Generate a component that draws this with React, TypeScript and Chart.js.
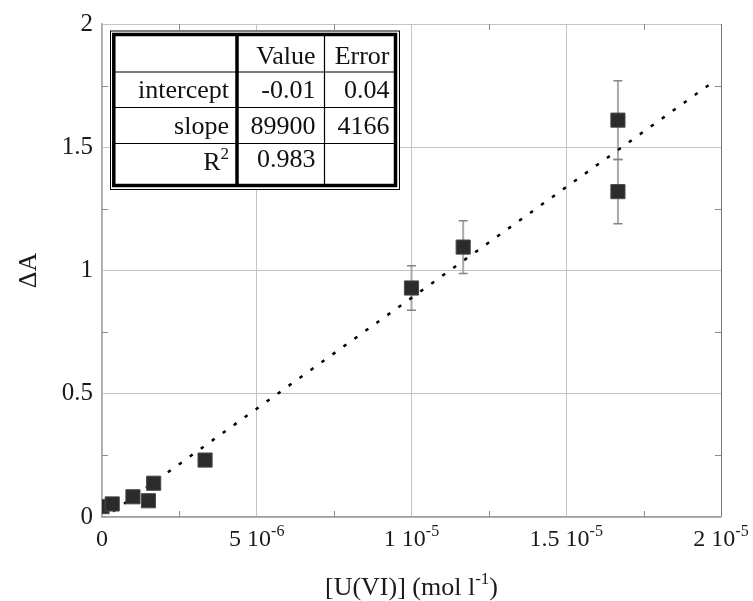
import React, { useEffect, useRef } from "react";
import { Chart, registerables } from "chart.js";

Chart.register(...registerables);

// ---- data ----
const uConc = [0, 0.33e-6, 1.0e-6, 1.5e-6, 1.67e-6, 3.33e-6, 10.0e-6, 11.67e-6, 16.67e-6, 16.67e-6];
const deltaA = [0.042, 0.053, 0.082, 0.066, 0.137, 0.231, 0.929, 1.095, 1.61, 1.32];
const deltaAErr = [0, 0, 0, 0, 0, 0, 0.09, 0.107, 0.16, 0.13];
const fitX = [0, 1.97e-5];
const fitY = [-0.01, 1.761];

const xTickValues = [0, 5e-6, 1e-5, 1.5e-5, 2e-5];
const xTickMantissa = ["0", "5 10", "1 10", "1.5 10", "2 10"];
const xTickExponent = ["", "-6", "-5", "-5", "-5"];
const yTickValues = [0, 0.5, 1, 1.5, 2];
const yTickLabels = ["0", "0.5", "1", "1.5", "2"];
const xMinorTicks = [2.5e-6, 7.5e-6, 12.5e-6, 17.5e-6];
const yMinorTicks = [0.25, 0.75, 1.25, 1.75];

const tableHeader = ["", "Value", "Error"];
const tableRowNames = ["intercept", "slope", "R"];
const tableRowSup = ["", "", "2"];
const tableValues = ["-0.01", "89900", "0.983"];
const tableErrors = ["0.04", "4166", ""];

const xTitleParts = ["[U(VI)] (mol l", "-1", ")"];
const yTitle = "ΔA";

const SERIF = '"Liberation Serif", "Times New Roman", serif';

const decorPlugin = {
  id: "decor",
  beforeDatasetsDraw(chart: any) {
    const { ctx, scales, chartArea: ca } = chart;
    const x = scales.x;
    const y = scales.y;
    ctx.save();
    // minor ticks on all four sides
    ctx.strokeStyle = "#8c8c8c";
    ctx.lineWidth = 1;
    const tl = 6;
    xMinorTicks.forEach((v) => {
      const px = Math.round(x.getPixelForValue(v)) + 0.5;
      ctx.beginPath();
      ctx.moveTo(px, ca.bottom);
      ctx.lineTo(px, ca.bottom - tl);
      ctx.moveTo(px, ca.top);
      ctx.lineTo(px, ca.top + tl);
      ctx.stroke();
    });
    yMinorTicks.forEach((v) => {
      const py = Math.round(y.getPixelForValue(v)) + 0.5;
      ctx.beginPath();
      ctx.moveTo(ca.left, py);
      ctx.lineTo(ca.left + tl, py);
      ctx.moveTo(ca.right, py);
      ctx.lineTo(ca.right - tl, py);
      ctx.stroke();
    });
    // error bars
    uConc.forEach((xv, i) => {
      const e = deltaAErr[i];
      if (!e) return;
      const px = x.getPixelForValue(xv);
      const top = y.getPixelForValue(deltaA[i] + e);
      const bot = y.getPixelForValue(deltaA[i] - e);
      ctx.strokeStyle = "#a9a9a9";
      ctx.lineWidth = 2;
      ctx.beginPath();
      ctx.moveTo(px, top);
      ctx.lineTo(px, bot);
      ctx.stroke();
      ctx.strokeStyle = "#858585";
      ctx.lineWidth = 1.5;
      ctx.beginPath();
      ctx.moveTo(px - 4.5, top);
      ctx.lineTo(px + 4.5, top);
      ctx.moveTo(px - 4.5, bot);
      ctx.lineTo(px + 4.5, bot);
      ctx.stroke();
    });
    ctx.restore();
  },
  afterDraw(chart: any) {
    const { ctx, scales, chartArea: ca } = chart;
    const x = scales.x;
    const y = scales.y;
    ctx.save();
    ctx.fillStyle = "#1a1a1a";

    // y tick labels
    ctx.font = `25px ${SERIF}`;
    ctx.textAlign = "right";
    ctx.textBaseline = "middle";
    yTickValues.forEach((v, i) => {
      ctx.fillText(yTickLabels[i], ca.left - 9, y.getPixelForValue(v));
    });

    // x tick labels with superscript exponent
    ctx.textBaseline = "alphabetic";
    ctx.textAlign = "left";
    const baseX = ca.bottom + 29;
    xTickValues.forEach((v, i) => {
      ctx.font = `24px ${SERIF}`;
      const m = xTickMantissa[i];
      const mw = ctx.measureText(m).width;
      ctx.font = `16px ${SERIF}`;
      const ex = xTickExponent[i];
      const ew = ex ? ctx.measureText(ex).width : 0;
      const total = mw + ew;
      const px = x.getPixelForValue(v);
      const start = px - total / 2;
      ctx.font = `24px ${SERIF}`;
      ctx.fillText(m, start, baseX);
      if (ex) {
        ctx.font = `16px ${SERIF}`;
        ctx.fillText(ex, start + mw, baseX - 10);
      }
    });

    // x title
    {
      ctx.font = `26px ${SERIF}`;
      const w1 = ctx.measureText(xTitleParts[0]).width;
      const w3 = ctx.measureText(xTitleParts[2]).width;
      ctx.font = `17px ${SERIF}`;
      const w2 = ctx.measureText(xTitleParts[1]).width;
      const total = w1 + w2 + w3;
      const cx = (ca.left + ca.right) / 2;
      const start = cx - total / 2;
      const base = ca.bottom + 78;
      ctx.font = `26px ${SERIF}`;
      ctx.fillText(xTitleParts[0], start, base);
      ctx.font = `17px ${SERIF}`;
      ctx.fillText(xTitleParts[1], start + w1, base - 11);
      ctx.font = `26px ${SERIF}`;
      ctx.fillText(xTitleParts[2], start + w1 + w2, base);
    }

    // y title
    ctx.save();
    ctx.translate(29, (ca.top + ca.bottom) / 2);
    ctx.rotate(-Math.PI / 2);
    ctx.font = `26px ${SERIF}`;
    ctx.textAlign = "center";
    ctx.textBaseline = "middle";
    ctx.fillText(yTitle, 0, 0);
    ctx.restore();

    // fit table
    const L = ca.left + 8;
    const T = ca.top + 6.5;
    const outer = { l: L, t: T, r: L + 290, b: T + 159.5 };
    const th = { l: outer.l + 3.8, t: outer.t + 4, r: outer.r - 4.5, b: outer.b - 4.5 };
    const colX = [th.l, L + 127, L + 214.5, th.r];
    const rowY = [th.t, T + 41.5, T + 77, T + 113, th.b];

    ctx.fillStyle = "#ffffff";
    ctx.fillRect(outer.l, outer.t, outer.r - outer.l, outer.b - outer.t);
    ctx.strokeStyle = "#000";
    ctx.lineWidth = 1;
    ctx.strokeRect(outer.l + 0.5, outer.t + 0.5, outer.r - outer.l - 1, outer.b - outer.t - 1);
    ctx.lineWidth = 3.5;
    ctx.strokeRect(th.l, th.t, th.r - th.l, th.b - th.t);
    // inner lines
    ctx.lineWidth = 1.2;
    ctx.beginPath();
    for (let r = 1; r < 4; r++) {
      ctx.moveTo(th.l, rowY[r]);
      ctx.lineTo(th.r, rowY[r]);
    }
    ctx.moveTo(colX[2], th.t);
    ctx.lineTo(colX[2], th.b);
    ctx.stroke();
    ctx.lineWidth = 3.5;
    ctx.beginPath();
    ctx.moveTo(colX[1], th.t);
    ctx.lineTo(colX[1], th.b);
    ctx.stroke();

    ctx.fillStyle = "#111";
    ctx.textAlign = "right";
    ctx.textBaseline = "alphabetic";
    ctx.font = `26px ${SERIF}`;
    const textR = [colX[1] - 8, colX[2] - 9, colX[3] - 6];
    const baselines = [T + 33, T + 67, T + 103, T + 138];
    tableHeader.forEach((h, c) => {
      if (h) ctx.fillText(h, textR[c], baselines[0]);
    });
    tableRowNames.forEach((name, r) => {
      const bl = baselines[r + 1];
      const sup = tableRowSup[r];
      if (sup) {
        ctx.font = `17px ${SERIF}`;
        const sw = ctx.measureText(sup).width;
        ctx.fillText(sup, textR[0], bl - 10);
        ctx.font = `26px ${SERIF}`;
        ctx.fillText(name, textR[0] - sw, bl + 1);
      } else {
        ctx.font = `26px ${SERIF}`;
        ctx.fillText(name, textR[0], bl);
      }
      ctx.font = `26px ${SERIF}`;
      if (tableValues[r]) ctx.fillText(tableValues[r], textR[1], r === 2 ? bl - 2 : bl);
      if (tableErrors[r]) ctx.fillText(tableErrors[r], textR[2], bl);
    });
    ctx.restore();
  },
};

export default function App() {
  const canvasRef = useRef<HTMLCanvasElement | null>(null);

  useEffect(() => {
    const canvas = canvasRef.current;
    if (!canvas) return;
    const chart = new Chart(canvas, {
      type: "scatter",
      data: {
        datasets: [
          {
            type: "scatter",
            data: uConc.map((xv, i) => ({ x: xv, y: deltaA[i] })),
            pointStyle: "rect",
            pointRadius: 10,
            pointHoverRadius: 10,
            backgroundColor: "#2b2b2b",
            borderColor: "#4a4a4a",
            borderWidth: 1,
            order: 1,
          } as any,
          {
            type: "line",
            data: fitX.map((xv, i) => ({ x: xv, y: fitY[i] })),
            borderColor: "#000000",
            borderWidth: 2.5,
            borderDash: [3.5, 10],
            pointRadius: 0,
            fill: false,
            order: 2,
          } as any,
        ],
      },
      options: {
        animation: false,
        responsive: false,
        maintainAspectRatio: false,
        events: [],
        layout: { padding: { left: 102, top: 24, right: 32, bottom: 84 } },
        plugins: { legend: { display: false }, tooltip: { enabled: false } },
        scales: {
          x: {
            type: "linear",
            min: 0,
            max: 2e-5,
            ticks: { display: false, stepSize: 5e-6 },
            grid: {
              drawTicks: false,
              lineWidth: 1,
              color: (c: any) => (c.index === 4 ? "#7a7a7a" : "#c4c4c4"),
            },
            border: { display: true, color: "#a0a0a0", width: 1.5 },
          },
          y: {
            type: "linear",
            min: 0,
            max: 2,
            ticks: { display: false, stepSize: 0.5 },
            grid: { drawTicks: false, lineWidth: 1, color: "#c4c4c4" },
            border: { display: true, color: "#a8a8a8", width: 1.5 },
          },
        },
      },
      plugins: [decorPlugin],
    });
    return () => chart.destroy();
  }, []);

  return (
    <div style={{ position: "absolute", left: 0, top: 0, width: 753, height: 601, background: "#fff" }}>
      <canvas ref={canvasRef} width={753} height={601} style={{ display: "block" }} />
    </div>
  );
}
